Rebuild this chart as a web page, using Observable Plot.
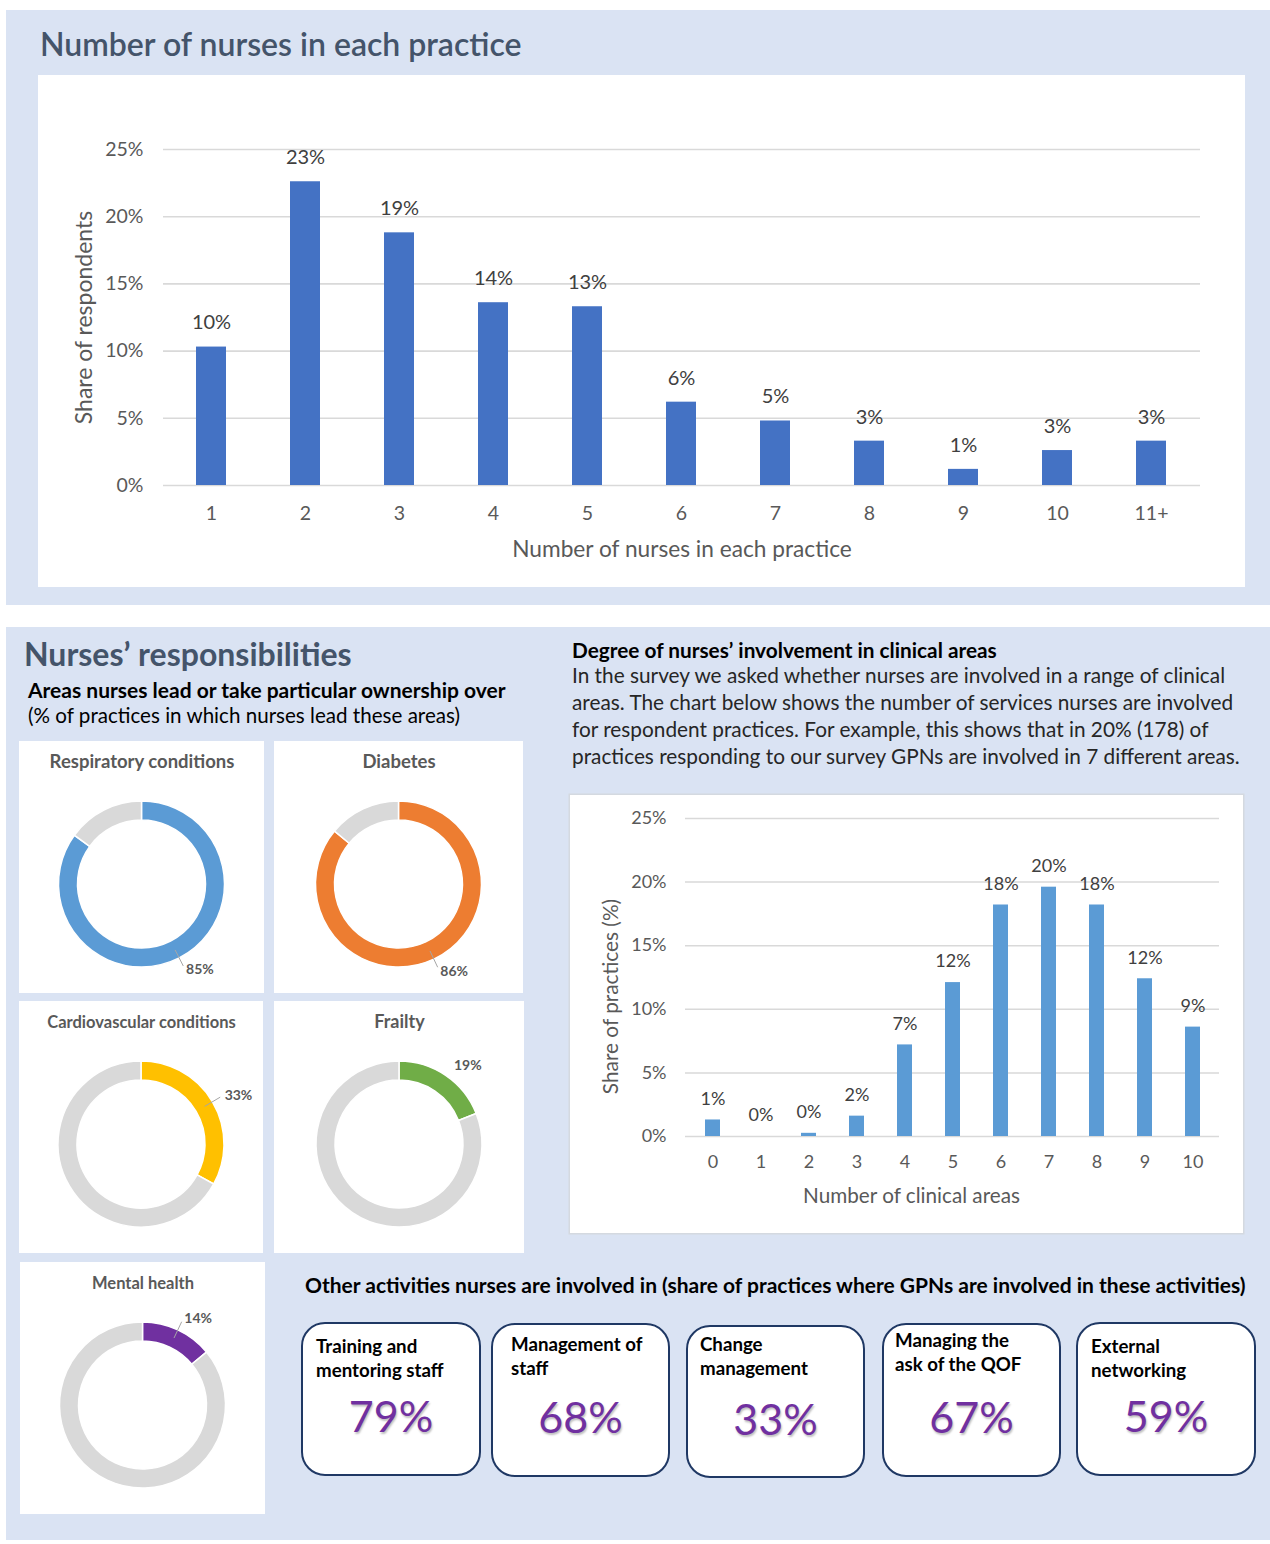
<!DOCTYPE html>
<html>
<head>
<meta charset="utf-8">
<script src="https://cdn.jsdelivr.net/npm/d3@7"></script>
<script src="https://cdn.jsdelivr.net/npm/@observablehq/plot@0.6"></script>
<style>
  html, body { margin: 0; padding: 0; background: #ffffff; }
  body { width: 1270px; height: 1544px; position: relative; font-family: Lato, "Open Sans", sans-serif; overflow: hidden; }
  .abs { position: absolute; }
  .panel { position: absolute; background: #dae3f3; }
  .h1 { position: absolute; color: #44546a; white-space: nowrap; }
  .txt { position: absolute; white-space: nowrap; }
  .card { position: absolute; background: #fff; border: 2px solid #1f3864; border-radius: 24px; box-sizing: border-box; }
  .card .lab { position: absolute; font-weight: 700; font-size: 18.7px; line-height: 24px; color: #000; white-space: nowrap; }
  .card .pct { position: absolute; left: 0; right: 0; top: 64px; text-align: center; font-size: 43px; line-height: 56px; color: #7030a0; text-shadow: 1px 2px 2px rgba(0,0,0,0.25); }
  svg { display: block; }
</style>
</head>
<body>
<script>
// ---------- DATA ----------
const nurseCounts = ["1", "2", "3", "4", "5", "6", "7", "8", "9", "10", "11+"];
const nurseShares = [10.3, 22.6, 18.8, 13.6, 13.3, 6.2, 4.8, 3.3, 1.2, 2.6, 3.3];

const clinicalAreas = ["0", "1", "2", "3", "4", "5", "6", "7", "8", "9", "10"];
const clinicalShares = [1.3, 0, 0.25, 1.6, 7.2, 12.1, 18.2, 19.6, 18.2, 12.4, 8.6];

const yTicks = [0, 5, 10, 15, 20, 25];

const leadAreas = ["Respiratory conditions", "Diabetes", "Cardiovascular conditions", "Frailty", "Mental health"];
const leadShares = [85, 86, 33, 19, 14];

const activities = ["Training and\nmentoring staff", "Management of\nstaff", "Change\nmanagement", "Managing the\nask of the QOF", "External\nnetworking"];
const activityShares = [79, 68, 33, 67, 59];

// ---------- STYLE / LAYOUT ----------
const leadColors = ["#5b9bd5", "#ed7d31", "#ffc000", "#70ad47", "#7030a0"];
const restColor = "#d9d9d9";
const donutCards = [
  {left: 19, top: 741, w: 245, h: 252, titleSize: 18.5, leader: true},
  {left: 274, top: 741, w: 249, h: 252, titleSize: 18.5, leader: true},
  {left: 19, top: 1001, w: 244, h: 252, titleSize: 16.5, leader: true},
  {left: 274, top: 1001, w: 250, h: 252, titleSize: 18, leader: false},
  {left: 20, top: 1262, w: 245, h: 252, titleSize: 16.5, leader: true}
];
const activityCards = [
  {left: 301, top: 1322, w: 180, h: 154, lx: 13, ly: 10},
  {left: 491, top: 1323, w: 179, h: 154, lx: 18, ly: 7},
  {left: 686, top: 1325, w: 179, h: 153, lx: 12, ly: 5},
  {left: 882, top: 1323, w: 179, h: 154, lx: 11, ly: 3},
  {left: 1076, top: 1322, w: 180, h: 154, lx: 13, ly: 10}
];
const pct = d => d + "%";

function el(tag, cls, css, html) {
  const e = document.createElement(tag);
  if (cls) e.className = cls;
  Object.assign(e.style, css || {});
  if (html != null) e.innerHTML = html;
  document.body.appendChild(e);
  return e;
}

// ---------- PANELS & HEADINGS ----------
el("div", "panel", {left: "6px", top: "10px", width: "1264px", height: "595px"});
el("div", "panel", {left: "6px", top: "627px", width: "1264px", height: "913px"});

el("div", "h1", {left: "40px", top: "25px", fontSize: "32px", lineHeight: "38px", fontWeight: "600"}, "Number of nurses in each practice");
el("div", "h1", {left: "24px", top: "635px", fontSize: "32px", lineHeight: "38px", fontWeight: "700"}, "Nurses’ responsibilities");
el("div", "txt", {left: "28px", top: "677px", fontSize: "21px", lineHeight: "26px", fontWeight: "700", color: "#000"}, "Areas nurses lead or take particular ownership over");
el("div", "txt", {left: "28px", top: "702px", fontSize: "20.6px", lineHeight: "26px", color: "#000"}, "(% of practices in which nurses lead these areas)");

el("div", "txt", {left: "572px", top: "637px", fontSize: "20.8px", lineHeight: "26px", fontWeight: "700", color: "#000"}, "Degree of nurses’ involvement in clinical areas");
el("div", "txt", {left: "572px", top: "661px", fontSize: "20.8px", lineHeight: "27px", color: "#262626"},
  "In the survey we asked whether nurses are involved in a range of clinical<br>" +
  "areas. The chart below shows the number of services nurses are involved<br>" +
  "for respondent practices. For example, this shows that in 20% (178) of<br>" +
  "practices responding to our survey GPNs are involved in 7 different areas.");

el("div", "txt", {left: "305px", top: "1272px", fontSize: "21px", lineHeight: "26px", fontWeight: "700", color: "#000"},
  "Other activities nurses are involved in (share of practices where GPNs are involved in these activities)");

// ---------- CHART 1: nurses per practice ----------
const d1 = nurseCounts.map((c, i) => ({c, v: nurseShares[i]}));
const chart1 = Plot.plot({
  width: 1207, height: 512,
  marginLeft: 125, marginRight: 45, marginTop: 74, marginBottom: 102,
  style: {fontFamily: "Lato, sans-serif", fontSize: "19.5px", color: "#595959", background: "#ffffff"},
  x: {domain: nurseCounts, paddingInner: 0.68, paddingOuter: 0.34, label: null, tickSize: 0, tickPadding: 21},
  y: {domain: [0, 25], ticks: yTicks, tickFormat: pct, label: null, tickSize: 0, tickPadding: 20},
  marks: [
    Plot.ruleY(yTicks, {stroke: "#d9d9d9", strokeWidth: 1.6}),
    Plot.barY(d1, {x: "c", y: "v", fill: "#4472c4"}),
    Plot.text(d1, {x: "c", y: "v", text: d => Math.round(d.v) + "%", dy: -24, fontSize: 20, fill: "#404040"}),
    Plot.text(["Number of nurses in each practice"], {text: d => d, frameAnchor: "bottom", lineAnchor: "middle", textAnchor: "middle", dy: 64, fontSize: 22.7, fill: "#595959"}),
    Plot.text(["Share of respondents"], {text: d => d, frameAnchor: "left", lineAnchor: "middle", textAnchor: "middle", dx: -79, rotate: -90, fontSize: 23, fill: "#595959"})
  ]
});
const c1 = el("div", "abs", {left: "38px", top: "75px"});
c1.appendChild(chart1);

// ---------- CHART 2: clinical areas ----------
const d2 = clinicalAreas.map((c, i) => ({c, v: clinicalShares[i]}));
const chart2 = Plot.plot({
  width: 673, height: 438,
  marginLeft: 115, marginRight: 24, marginTop: 23, marginBottom: 97,
  style: {fontFamily: "Lato, sans-serif", fontSize: "18px", color: "#595959", background: "#ffffff"},
  x: {domain: clinicalAreas, paddingInner: 0.69, paddingOuter: 0.345, label: null, tickSize: 0, tickPadding: 19},
  y: {domain: [0, 25], ticks: yTicks, tickFormat: pct, label: null, tickSize: 0, tickPadding: 19},
  marks: [
    Plot.ruleY(yTicks, {stroke: "#d9d9d9", strokeWidth: 1.5}),
    Plot.barY(d2, {x: "c", y: "v", fill: "#5b9bd5"}),
    Plot.text(d2, {x: "c", y: "v", text: d => Math.round(d.v) + "%", dy: -21, fontSize: 18, fill: "#404040"}),
    Plot.text(["Number of clinical areas"], {text: d => d, frameAnchor: "bottom", lineAnchor: "middle", textAnchor: "middle", dx: -41, dy: 60, fontSize: 20.7, fill: "#595959"}),
    Plot.text(["Share of practices (%)"], {text: d => d, frameAnchor: "left", lineAnchor: "middle", textAnchor: "middle", dx: -74, dy: 19, rotate: -90, fontSize: 20.8, fill: "#595959"})
  ]
});
const c2 = el("div", "abs", {left: "570px", top: "795px", boxShadow: "0 0 0 1.5px #d4d9e0"});
c2.appendChild(chart2);

// ---------- DONUTS ----------
leadAreas.forEach((name, i) => {
  const card = donutCards[i];
  const value = leadShares[i];
  const ring = (index, scales, values, dims) => {
    const g = d3.create("svg:g");
    const cx = dims.width / 2, cy = 143;
    const arcs = d3.pie().sort(null)([value, 100 - value]);
    const arc = d3.arc().innerRadius(64).outerRadius(83);
    g.selectAll("path").data(arcs).join("path")
      .attr("transform", `translate(${cx},${cy})`)
      .attr("d", arc)
      .attr("fill", (d, j) => j === 0 ? leadColors[i] : restColor)
      .attr("stroke", "#ffffff").attr("stroke-width", 1.5);
    const a = arcs[0];
    const mid = (a.startAngle + a.endAngle) / 2;
    const pt = r => [cx + Math.sin(mid) * r, cy - Math.cos(mid) * r];
    if (card.leader) {
      const [x0, y0] = pt(74), [x1, y1] = pt(92);
      g.append("line").attr("x1", x0).attr("y1", y0).attr("x2", x1).attr("y2", y1)
        .attr("stroke", "#a6a6a6").attr("stroke-width", 1);
    }
    const [lx, ly] = pt(96);
    g.append("text").attr("x", lx + 1).attr("y", ly).attr("dy", "0.35em")
      .attr("text-anchor", "start").attr("font-size", 14).attr("font-weight", 700)
      .attr("fill", "#595959").text(value + "%");
    return g.node();
  };
  const p = Plot.plot({
    width: card.w, height: card.h, margin: 0,
    style: {fontFamily: "Lato, sans-serif", background: "#ffffff"},
    marks: [
      Plot.text([name], {text: d => d, frameAnchor: "top", dy: 21, lineAnchor: "middle", fontSize: card.titleSize, fontWeight: 700, fill: "#595959"}),
      ring
    ]
  });
  const holder = el("div", "abs", {left: card.left + "px", top: card.top + "px"});
  holder.appendChild(p);
});

// ---------- ACTIVITY CARDS ----------
activities.forEach((name, i) => {
  const c = activityCards[i];
  const card = el("div", "card", {left: c.left + "px", top: c.top + "px", width: c.w + "px", height: c.h + "px"});
  const lab = document.createElement("div");
  lab.className = "lab";
  lab.style.left = c.lx + "px";
  lab.style.top = c.ly + "px";
  lab.innerHTML = name.replace("\n", "<br>");
  const v = document.createElement("div");
  v.className = "pct";
  v.textContent = activityShares[i] + "%";
  card.appendChild(lab);
  card.appendChild(v);
});
</script>
</body>
</html>
